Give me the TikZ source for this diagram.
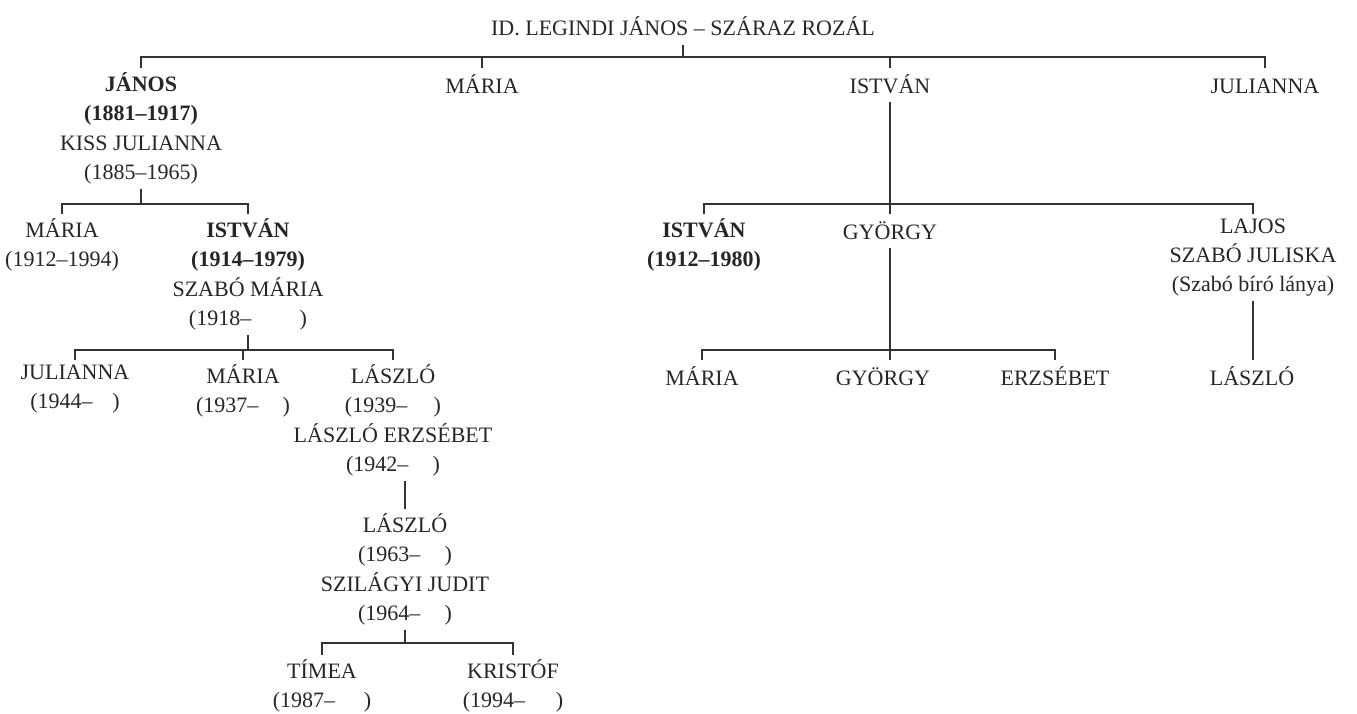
\documentclass[tikz,border=0pt]{standalone}
\usepackage{fontspec}
\setmainfont{Liberation Serif}
\usetikzlibrary{positioning, calc}
\tikzset{%
  person/.style={anchor=north, align=center, inner sep=0pt, text=black!85,
    font=\fontsize{22}{29.3}\selectfont,
    execute at begin node=\strut, execute at end node=\strut},
  link/.style={line width=1.4pt, draw=black!80},
  bracket/.style={link, shorten <=4.5pt, shorten >=4.5pt},
  tick/.style={link, shorten <=4.5pt}
}
\newcommand{\open}[1]{\hspace{#1em})}

\begin{document}
\begin{tikzpicture}[x=1pt, y=-1pt]
  \useasboundingbox (0,0) rectangle (1357,713);
  % generation lines
  \coordinate (top) at (0,57);
  \coordinate (famA) at (0,204);
  \coordinate (famB) at (0,350);
  \coordinate (famC) at (0,643);

  \node[person] (title) at (683,15) {ID. LEGINDI JÁNOS – SZÁRAZ ROZÁL};

  \node[person] (janos) at (141,72.6) {\textbf{JÁNOS}\\\textbf{(1881–1917)}\\KISS JULIANNA\\(1885–1965)};
  \node[person] (maria) at (482,72.6) {MÁRIA};
  \node[person] (istvan) at (890,72.6) {ISTVÁN};
  \node[person] (julianna) at (1265,72.6) {JULIANNA};

  \node[person] (mariaB) at (62,218.6) {MÁRIA\\(1912–1994)};
  \node[person] (istvanB) at (248,218.6) {\textbf{ISTVÁN}\\\textbf{(1914–1979)}\\SZABÓ MÁRIA\\(1918–\open{2.2}};
  \node[person] (istvanR) at (704,218.6) {\textbf{ISTVÁN}\\\textbf{(1912–1980)}};
  \node[person] (gyorgy) at (890,218.6) {GYÖRGY};
  \node[person] (lajos) at (1253,218.6) {LAJOS\\SZABÓ JULISKA\\(Szabó bíró lánya)};

  \node[person] (juliannaC) at (75,364.6) {JULIANNA\\(1944–\open{0.9}};
  \node[person] (mariaC) at (243,364.6) {MÁRIA\\(1937–\open{1.1}};
  \node[person] (laszlo) at (393,364.6) {LÁSZLÓ\\(1939–\open{1.2}\\LÁSZLÓ ERZSÉBET\\(1942–\open{1.1}};
  \node[person] (mariaR) at (702,364.6) {MÁRIA};
  \node[person] (gyorgyR) at (883,364.6) {GYÖRGY};
  \node[person] (erzsebet) at (1055,364.6) {ERZSÉBET};
  \node[person] (laszloR) at (1252,364.6) {LÁSZLÓ};

  \node[person] (laszloD) at (405,513.6) {LÁSZLÓ\\(1963–\open{1.1}\\SZILÁGYI JUDIT\\(1964–\open{1.1}};

  \node[person] (timea) at (322,659.6) {TÍMEA\\(1987–\open{1.3}};
  \node[person] (kristof) at (513,659.6) {KRISTÓF\\(1994–\open{1.4}};

  % first generation
  \draw[link] (title.south) -- (title.south |- top);
  \draw[bracket] (janos.north) -- (janos.north |- top) -- (julianna.north |- top) -- (julianna.north);
  \draw[tick] (maria.north) -- (maria.north |- top);
  \draw[tick] (istvan.north) -- (istvan.north |- top);

  % children of janos
  \draw[link] (janos.south) -- (janos.south |- famA);
  \draw[bracket] (mariaB.north) -- (mariaB.north |- famA) -- (istvanB.north |- famA) -- (istvanB.north);

  % children of istvan
  \draw[link, shorten >=4.5pt] (istvan.south) -- (istvan.south |- gyorgy.north);
  \draw[bracket] (istvanR.north) -- (istvanR.north |- famA) -- (lajos.north |- famA) -- (lajos.north);

  % grandchildren
  \draw[link] (istvanB.south) -- (istvanB.south |- famB);
  \draw[bracket] (juliannaC.north) -- (juliannaC.north |- famB) -- (laszlo.north |- famB) -- (laszlo.north);
  \draw[tick] (mariaC.north) -- (mariaC.north |- famB);
  \draw[link, shorten >=4.5pt] (gyorgy.south) -- (gyorgy.south |- gyorgyR.north);
  \draw[bracket] (mariaR.north) -- (mariaR.north |- famB) -- (erzsebet.north |- famB) -- (erzsebet.north);
  \draw[link, shorten >=4.5pt] (lajos.south) -- (lajos.south |- laszloR.north);

  % later generations
  \draw[link, shorten <=4.5pt] (laszloD.north) -- (laszloD.north |- laszlo.south);
  \draw[link] (laszloD.south) -- (laszloD.south |- famC);
  \draw[bracket] (timea.north) -- (timea.north |- famC) -- (kristof.north |- famC) -- (kristof.north);
\end{tikzpicture}
\end{document}
